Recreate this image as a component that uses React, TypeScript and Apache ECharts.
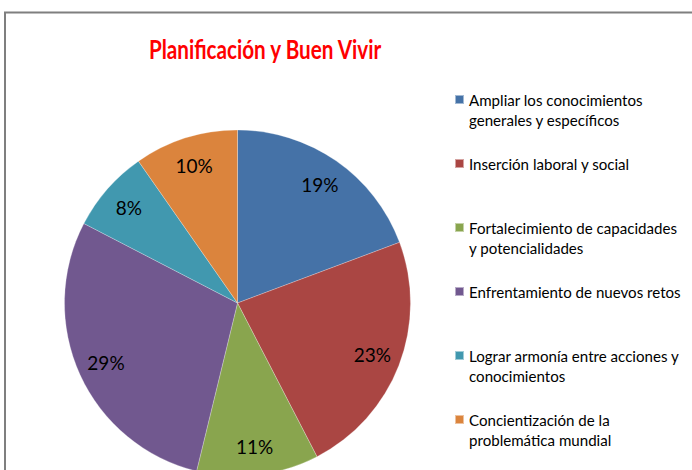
import React, { useEffect, useRef } from "react";
import * as echarts from "echarts";

const titleText = "Planificación y Buen Vivir";
const categories = [
  "Ampliar los conocimientos generales y específicos",
  "Inserción laboral y social",
  "Fortalecimiento de capacidades y potencialidades",
  "Enfrentamiento de nuevos retos",
  "Lograr armonía entre acciones y conocimientos",
  "Concientización de la problemática mundial",
];
const legendLabels = [
  "Ampliar los conocimientos\ngenerales y específicos",
  "Inserción laboral y social\n ",
  "Fortalecimiento de capacidades\ny potencialidades",
  "Enfrentamiento de nuevos retos\n ",
  "Lograr armonía entre acciones y\nconocimientos",
  "Concientización de la\nproblemática mundial",
];
const values = [19.3, 23.1, 11.4, 28.8, 7.7, 9.7];
const colors = ["#4572A7", "#AA4643", "#89A54E", "#71588F", "#4198AF", "#DB843D"];

const FONT = "Lato, 'Noto Sans', sans-serif";

export default function App() {
  const ref = useRef<HTMLDivElement>(null);
  useEffect(() => {
    if (!ref.current) return;
    const chart = echarts.init(ref.current, null, { renderer: "svg" });
    const data = categories.map((name, i) => ({
      name,
      value: values[i],
      itemStyle: { color: colors[i] },
    }));
    const labelMap: Record<string, string> = {};
    categories.forEach((c, i) => (labelMap[c] = legendLabels[i]));
    const cx = 237.5;
    const cy = 303;
    const R = 173;
    chart.setOption({
      animation: false,
      backgroundColor: "#ffffff",
      graphic: [
        {
          type: "rect",
          shape: { x: 5, y: 12.5, width: 800, height: 600 },
          style: { fill: "none", stroke: "#7f7f7f", lineWidth: 2 },
          silent: true,
        },
        {
          type: "text",
          x: 265,
          y: 35,
          scaleX: 0.78,
          style: {
            text: titleText,
            fill: "#FF0000",
            fontWeight: "bold",
            fontSize: 26.5,
            fontFamily: FONT,
            align: "center",
            verticalAlign: "top",
          },
          silent: true,
        },
      ],
      legend: {
        orient: "vertical",
        left: 454,
        top: 88.5,
        padding: 0,
        itemWidth: 9,
        itemHeight: 40,
        itemGap: 22,
        icon: "path://M0,5.5h9v9h-9z M0,0h0.01v0.01h-0.01z M0,39.99h0.01v0.01h-0.01z",
        data: categories,
        formatter: (name: string) => labelMap[name],
        textStyle: {
          fontFamily: FONT,
          fontSize: 15.1,
          lineHeight: 20,
          color: "#000000",
        },
        selectedMode: false,
      },
      series: [
        {
          type: "pie",
          center: [cx, cy],
          radius: [0, R],
          startAngle: 90,
          clockwise: true,
          data,
          label: { show: false },
          labelLine: { show: false },
          itemStyle: { borderColor: "rgba(255,255,255,0.5)", borderWidth: 0.5 },
          silent: true,
        },
        {
          type: "pie",
          center: [cx, cy],
          radius: [110, R],
          startAngle: 90,
          clockwise: true,
          data: categories.map((name, i) => ({
            name,
            value: values[i],
            itemStyle: { color: "rgba(0,0,0,0)" },
          })),
          itemStyle: { borderWidth: 0 },
          label: {
            show: true,
            position: "inside",
            formatter: (p: any) => `${Math.round(p.percent)}%`,
            fontFamily: FONT,
            fontSize: 19,
            color: "#000000",
          },
          labelLine: { show: false },
          silent: true,
          legendHoverLink: false,
        },
      ],
    });
    return () => chart.dispose();
  }, []);
  return (
    <div
      ref={ref}
      style={{ position: "fixed", left: 0, top: 0, width: 692, height: 470 }}
    />
  );
}
